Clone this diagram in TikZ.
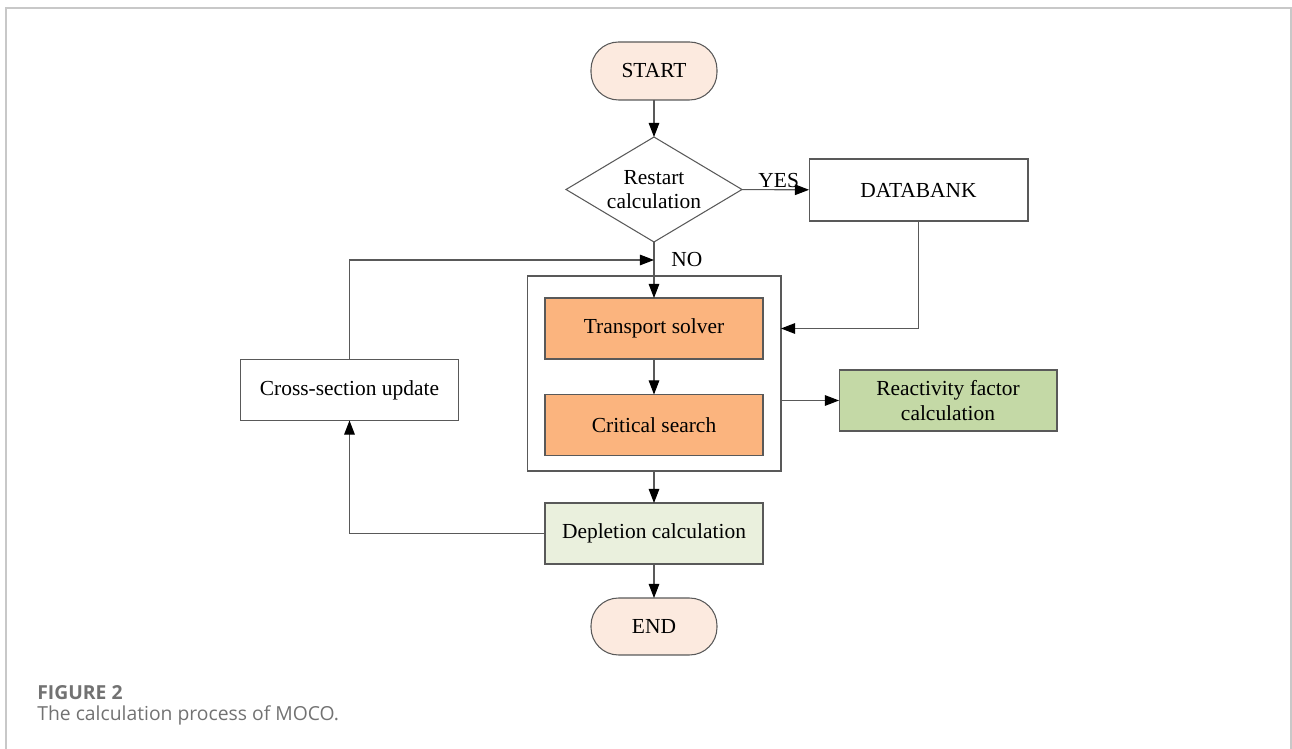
\documentclass[tikz,border=0pt]{standalone}
\usepackage{fontspec}
\setmainfont{Liberation Serif}
\newfontfamily\capfont{Open Sans}
\usetikzlibrary{arrows.meta}
\usetikzlibrary{shapes.geometric}

\definecolor{termfill}{HTML}{FCEADF}
\definecolor{solverfill}{HTML}{FBB47E}
\definecolor{reactfill}{HTML}{C4D9A6}
\definecolor{deplfill}{HTML}{EAF0DD}
\definecolor{edgegray}{HTML}{595959}
\definecolor{framegray}{HTML}{C8C8C8}
\definecolor{captiongray}{HTML}{727272}

\tikzset{
  box/.style={draw=edgegray, line width=0.6pt, minimum width=4.36cm, minimum height=1.22cm,
    font=\fontsize{12.2}{14}\selectfont, align=center, inner sep=0pt, outer sep=0pt},
  term/.style={box, rounded corners=0.55cm, fill=termfill, minimum width=2.52cm, minimum height=1.16cm},
  flow/.style={draw=edgegray, line width=0.6pt, -{Triangle[length=8pt,width=6pt,color=black]}},
}

\begin{document}
\begin{tikzpicture}[x=0.02cm, y=-0.02cm]
\useasboundingbox (0,0) rectangle (1292,749);
\draw[framegray, line width=0.8pt] (6,749) -- (6,8) -- (1291,8) -- (1291,749);

\node[term] (start) at (654,71) {START};
\node[box, diamond, aspect=1.68, minimum width=3.52cm, minimum height=2.1cm] (restart) at (654,189.5) {Restart\\calculation};
\node[box, minimum width=4.38cm, minimum height=1.24cm] (data) at (918.5,190) {DATABANK};

\node[box, minimum width=5.08cm, minimum height=3.9cm] (core) at (654,373.5) {};
\node[box, fill=solverfill] (transport) at (654,328.5) {Transport solver};
\node[box, fill=solverfill] (critical) at (654,425) {Critical search};
\node[box, fill=reactfill] (react) at (948,400.5) {Reactivity factor\\calculation};
\node[box] (xsec) at (349.5,390) {Cross-section update};
\node[box, fill=deplfill] (depl) at (654,533.5) {Depletion calculation};
\node[term, minimum height=1.14cm] (finish) at (654,626.5) {END};

\coordinate (merge) at (654,260);
\node[anchor=west, xshift=0.34cm, inner sep=0pt, font=\fontsize{12.2}{14}\selectfont] (no) at (merge) {NO};

\draw[flow] (start) -- (restart);
\draw[flow] (restart) -- node[pos=0.55, anchor=south, inner sep=1pt, font=\fontsize{12.2}{14}\selectfont] (yes) {YES} (data);
\draw[flow] (restart) -- (transport);
\draw[flow] (xsec) |- (merge);
\draw[flow] (data) |- (core.east |- transport.east);
\draw[flow] (transport) -- (critical);
\draw[flow] (core.east |- react.west) -- (react);
\draw[flow] (core) -- (depl);
\draw[flow] (depl) -| (xsec);
\draw[flow] (depl) -- (finish);

\node[anchor=base west, inner sep=0pt, text=captiongray, font=\capfont\fontsize{11}{13}\selectfont\bfseries] (figlabel) at (37,700) {FIGURE 2};
\node[anchor=base west, inner sep=0pt, text=captiongray, font=\capfont\fontsize{11}{13}\selectfont] (figtext) at (37,721) {The calculation process of MOCO.};
\end{tikzpicture}
\end{document}
